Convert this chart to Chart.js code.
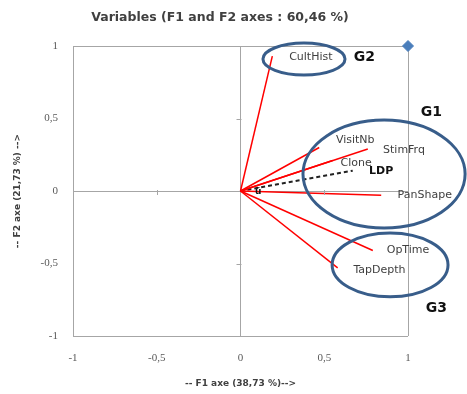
<!DOCTYPE html>
<html>
<head>
<meta charset="utf-8">
<script src="https://cdn.jsdelivr.net/npm/chart.js@4.4.0/dist/chart.umd.min.js"></script>
<style>
  html, body { margin: 0; padding: 0; background: #fff; }
</style>
</head>
<body>
<canvas id="pcaChart" width="467" height="394"></canvas>
<script>
// variables on the correlation circle (F1, F2 coordinates)
var variables = ["CultHist", "VisitNb", "StimFrq", "Clone", "PanShape", "OpTime", "TapDepth"];
var f1 = [0.19, 0.47, 0.76, 0.55, 0.84, 0.79, 0.58];
var f2 = [0.93, 0.30, 0.29, 0.21, -0.03, -0.41, -0.53];

// supplementary variable (dashed)
var supName = "LDP";
var supF1 = [0.67];
var supF2 = [0.14];

// axis ticks
var tickValues = [-1, -0.5, 0, 0.5, 1];

// group names
var groups = ["G1", "G2", "G3"];

// where the text goes (data units)
var labelAt = {
    CultHist: [0.42, 0.92], VisitNb: [0.685, 0.35], StimFrq: [0.976, 0.283],
    Clone: [0.69, 0.19], PanShape: [1.10, -0.03], OpTime: [1.0, -0.41],
    TapDepth: [0.83, -0.545], LDP: [0.84, 0.138]
};
var groupAt = { G1: [1.14, 0.54], G2: [0.74, 0.92], G3: [1.17, -0.81] };
// ellipses: centre x, centre y, radius x, radius y (data units)
var groupRings = { G1: [0.857, 0.117, 0.484, 0.372], G2: [0.379, 0.91, 0.245, 0.11], G3: [0.893, -0.51, 0.346, 0.22] };

var fmt = function (v) { return String(v).replace('.', ','); };

var datasets = [];
for (var i = 0; i < variables.length; i++) {
    datasets.push({
        label: variables[i],
        data: [{ x: 0, y: 0 }, { x: f1[i], y: f2[i] }],
        showLine: true,
        borderColor: '#ff0000',
        borderWidth: 1.5,
        pointRadius: 0
    });
}
datasets.push({
    label: supName,
    data: [{ x: 0, y: 0 }, { x: supF1[0], y: supF2[0] }],
    showLine: true,
    borderColor: '#222222',
    borderWidth: 2,
    borderDash: [4, 3],
    pointRadius: 0
});
datasets.push({
    label: 'corner',
    data: [{ x: 1, y: 1 }],
    pointStyle: 'rectRot',
    pointRadius: 5.5,
    backgroundColor: '#4a7ebb',
    borderColor: '#4a7ebb',
    clip: false
});

// ellipses, labels and the little ticks on the centre axes
var decor = {
    id: 'decor',
    afterLayout: function (chart) {
        // title sits a bit right of the plot centre in the original
        chart.titleBlock.left = 32;
    },
    afterDatasetsDraw: function (chart) {
        var c = chart.ctx, sx = chart.scales.x, sy = chart.scales.y;
        var px = function (v) { return sx.getPixelForValue(v); };
        var py = function (v) { return sy.getPixelForValue(v); };
        c.save();
        // minor ticks on the zero lines
        c.strokeStyle = '#a6a6a6';
        c.lineWidth = 1;
        [-0.5, 0.5].forEach(function (v) {
            c.beginPath();
            c.moveTo(px(0) - 4, Math.round(py(v)) + 0.5); c.lineTo(px(0) + 1, Math.round(py(v)) + 0.5);
            c.moveTo(Math.round(px(v)) + 0.5, py(0) - 1); c.lineTo(Math.round(px(v)) + 0.5, py(0) + 4);
            c.stroke();
        });
        // group ellipses
        c.strokeStyle = '#385d8a';
        c.lineWidth = 3;
        groups.forEach(function (g) {
            var r = groupRings[g];
            c.beginPath();
            c.ellipse(px(r[0]), py(r[1]), r[2] * (px(1) - px(0)), r[3] * (py(0) - py(1)), 0, 0, Math.PI * 2);
            c.stroke();
        });
        // variable names
        c.textAlign = 'center';
        c.textBaseline = 'middle';
        c.fillStyle = '#404040';
        c.font = '11px "DejaVu Sans"';
        variables.forEach(function (v) {
            var p = labelAt[v];
            c.fillText(v, px(p[0]), py(p[1]));
        });
        c.fillStyle = '#111111';
        c.font = 'bold 11px "DejaVu Sans"';
        c.fillText(supName, px(labelAt.LDP[0]), py(labelAt.LDP[1]));
        c.font = 'bold 9px "DejaVu Sans"';
        c.fillText('\u016B', px(0.105), py(0) + 1);
        c.font = 'bold 14px "DejaVu Sans"';
        groups.forEach(function (g) {
            c.fillText(g, px(groupAt[g][0]), py(groupAt[g][1]));
        });
        c.restore();
    }
};

var edgeGrid = function (ctx) {
    var v = ctx.tick ? ctx.tick.value : null;
    return (v === 0 || v === 1 || v === -1) ? '#a6a6a6' : 'rgba(0,0,0,0)';
};

var ctx = document.getElementById('pcaChart').getContext('2d');
var myChart = new Chart(ctx, {
    type: 'scatter',
    data: { datasets: datasets },
    options: {
        responsive: false,
        animation: false,
        layout: { padding: { left: 0, right: 59, top: 0, bottom: 0 } },
        plugins: {
            legend: { display: false },
            tooltip: { enabled: false },
            title: {
                display: true,
                text: 'Variables (F1 and F2 axes : 60,46 %)',
                color: '#404040',
                font: { family: 'DejaVu Sans', size: 12.5, weight: 'bold', lineHeight: 1.2 },
                padding: { top: 10, bottom: 21 }
            }
        },
        scales: {
            x: {
                type: 'linear',
                min: -1, max: 1,
                afterBuildTicks: function (s) { s.ticks = tickValues.map(function (v) { return { value: v }; }); },
                afterFit: function (s) { s.height = 58; },
                grid: { color: edgeGrid, drawTicks: false },
                border: { display: false },
                ticks: { color: '#595959', padding: 16, font: { family: 'Liberation Serif', size: 11 }, callback: fmt },
                title: {
                    display: true,
                    text: '-- F1 axe (38,73 %)-->',
                    color: '#404040',
                    font: { family: 'DejaVu Sans', size: 9, weight: 'bold', lineHeight: 1.2 },
                    padding: { top: 0, bottom: 4.6 }
                }
            },
            y: {
                type: 'linear',
                min: -1, max: 1,
                afterBuildTicks: function (s) { s.ticks = tickValues.map(function (v) { return { value: v }; }); },
                afterFit: function (s) { s.width = 73; },
                grid: { color: edgeGrid, drawTicks: false },
                border: { display: false },
                ticks: { color: '#595959', padding: 15, font: { family: 'Liberation Serif', size: 11 }, callback: fmt },
                title: {
                    display: true,
                    text: '-- F2 axe (21,73 %) -->',
                    color: '#404040',
                    font: { family: 'DejaVu Sans', size: 9, weight: 'bold', lineHeight: 1.2 },
                    padding: { top: 12.6, bottom: 0 }
                }
            }
        }
    },
    plugins: [decor]
});
</script>
</body>
</html>
